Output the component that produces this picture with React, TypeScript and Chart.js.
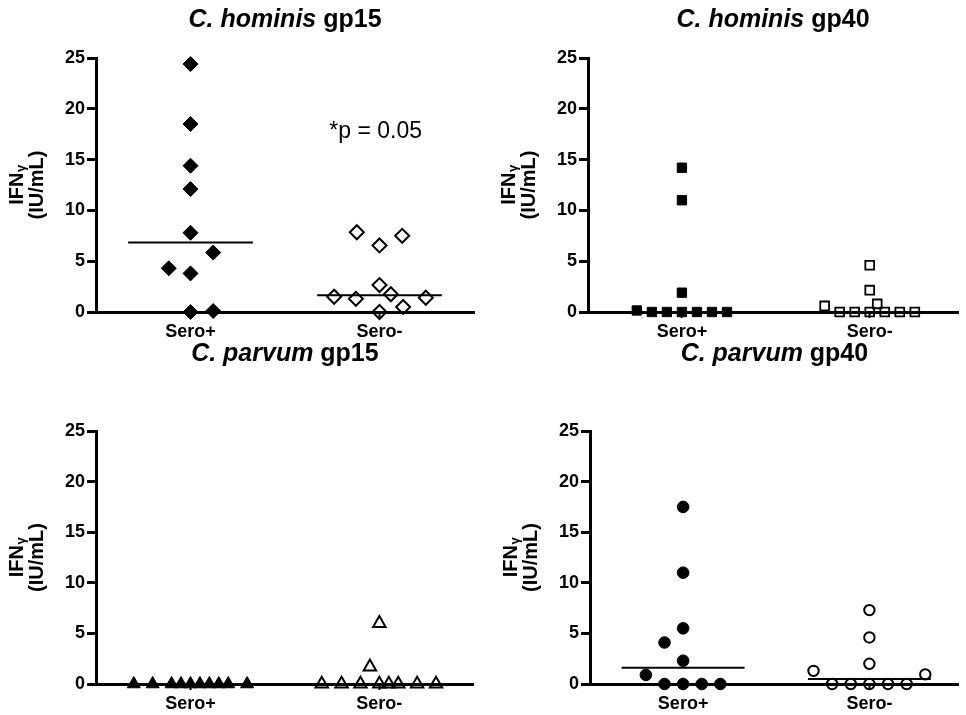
import React, { useEffect, useRef } from 'react';
import { Chart, registerables } from 'chart.js';

Chart.register(...registerables);

const FONT = "'Liberation Sans', Arial, Helvetica, sans-serif";

const categories = ['Sero+', 'Sero-'];
const yTickValues = [0, 5, 10, 15, 20, 25];

// C. hominis gp15 (diamonds)
const hominisGp15PosX = [1, 1, 1, 1, 1, 1.24, 0.77, 1, 1, 1.24];
const hominisGp15PosY = [24.4, 18.5, 14.4, 12.1, 7.8, 5.85, 4.3, 3.8, 0, 0.1];
const hominisGp15NegX = [2.76, 3, 3.24, 3, 3.12, 2.52, 2.75, 3.49, 3.25, 3];
const hominisGp15NegY = [7.85, 6.55, 7.5, 2.65, 1.75, 1.5, 1.3, 1.4, 0.5, 0];
const hominisGp15Median = [6.85, 1.65];

// C. hominis gp40 (squares)
const hominisGp40PosX = [1, 1, 1, 0.52, 0.68, 0.84, 1, 1.16, 1.32, 1.48];
const hominisGp40PosY = [14.2, 11.0, 1.9, 0.15, 0, 0, 0, 0, 0, 0];
const hominisGp40NegX = [3, 3, 3.08, 2.52, 2.68, 2.84, 3, 3.16, 3.32, 3.48];
const hominisGp40NegY = [4.6, 2.15, 0.8, 0.6, 0, 0, 0, 0, 0, 0];
const hominisGp40Median = [0, 0];

// C. parvum gp15 (triangles)
const parvumGp15PosX = [0.4, 0.6, 0.8, 0.9, 1, 1.1, 1.2, 1.3, 1.4, 1.6];
const parvumGp15PosY = [0, 0, 0, 0, 0, 0, 0, 0, 0, 0];
const parvumGp15NegX = [3.0, 2.9, 2.39, 2.6, 2.8, 3.0, 3.1, 3.2, 3.4, 3.6];
const parvumGp15NegY = [6.0, 1.7, 0, 0, 0, 0, 0, 0, 0, 0];
const parvumGp15Median = [0, 0];

// C. parvum gp40 (circles)
const parvumGp40PosX = [1, 1, 1, 0.8, 1, 0.6, 0.8, 1, 1.2, 1.4];
const parvumGp40PosY = [17.5, 11.0, 5.5, 4.1, 2.3, 0.9, 0, 0, 0, 0];
const parvumGp40NegX = [3, 3, 3, 2.4, 3.6, 2.6, 2.8, 3, 3.2, 3.4];
const parvumGp40NegY = [7.3, 4.6, 2.0, 1.3, 0.95, 0, 0, 0, 0, 0];
const parvumGp40Median = [1.6, 0.5];

const pValueText = '*p = 0.05';

type PanelDef = {
  species: string;
  antigen: string;
  left: number;
  top: number;
  width: number;
  height: number;
  axisLeft: number;
  padTop: number;
  padRight: number;
  xAxisHeight: number;
  xMax: number;
  titleBaseline: number;
  pointStyle: string;
  filledRadius: number;
  openRadius: number;
  openBorder: number;
  posX: number[];
  posY: number[];
  negX: number[];
  negY: number[];
  medians: number[];
  annotation?: string;
};

const panels: PanelDef[] = [
  {
    species: 'hominis', antigen: 'gp15',
    left: 0, top: 0, width: 483, height: 345,
    axisLeft: 96, padTop: 58, padRight: 8, xAxisHeight: 33, xMax: 4, titleBaseline: 27,
    pointStyle: 'rectRot', filledRadius: 7.5, openRadius: 7, openBorder: 2,
    posX: hominisGp15PosX, posY: hominisGp15PosY, negX: hominisGp15NegX, negY: hominisGp15NegY,
    medians: hominisGp15Median, annotation: pValueText,
  },
  {
    species: 'hominis', antigen: 'gp40',
    left: 483, top: 0, width: 483, height: 345,
    axisLeft: 105, padTop: 58, padRight: 0, xAxisHeight: 33, xMax: 3.94, titleBaseline: 27,
    pointStyle: 'rect', filledRadius: 6.6, openRadius: 6.2, openBorder: 1.8,
    posX: hominisGp40PosX, posY: hominisGp40PosY, negX: hominisGp40NegX, negY: hominisGp40NegY,
    medians: hominisGp40Median,
  },
  {
    species: 'parvum', antigen: 'gp15',
    left: 0, top: 330, width: 483, height: 385,
    axisLeft: 96, padTop: 101, padRight: 8, xAxisHeight: 31, xMax: 4, titleBaseline: 31,
    pointStyle: 'triangle', filledRadius: 7.5, openRadius: 7.2, openBorder: 2,
    posX: parvumGp15PosX, posY: parvumGp15PosY, negX: parvumGp15NegX, negY: parvumGp15NegY,
    medians: parvumGp15Median,
  },
  {
    species: 'parvum', antigen: 'gp40',
    left: 483, top: 330, width: 483, height: 385,
    axisLeft: 107, padTop: 101, padRight: 0, xAxisHeight: 31, xMax: 3.96, titleBaseline: 31,
    pointStyle: 'circle', filledRadius: 5.8, openRadius: 5.2, openBorder: 2,
    posX: parvumGp40PosX, posY: parvumGp40PosY, negX: parvumGp40NegX, negY: parvumGp40NegY,
    medians: parvumGp40Median,
  },
];

const MEDIAN_HALF = 0.66;

function makeTextPlugin(p: PanelDef) {
  return {
    id: 'panelText',
    afterDraw(chart: any) {
      const ctx = chart.ctx as CanvasRenderingContext2D;
      const ca = chart.chartArea;
      ctx.save();
      ctx.fillStyle = '#000';
      // Title
      const italicFont = `italic bold 25px ${FONT}`;
      const boldFont = `bold 25px ${FONT}`;
      const partA = `C. ${p.species}`;
      const partB = ` ${p.antigen}`;
      ctx.font = italicFont;
      const wA = ctx.measureText(partA).width;
      ctx.font = boldFont;
      const wB = ctx.measureText(partB).width;
      const cx = (ca.left + ca.right) / 2;
      const x0 = cx - (wA + wB) / 2;
      ctx.textBaseline = 'alphabetic';
      ctx.textAlign = 'left';
      ctx.font = italicFont;
      ctx.fillText(partA, x0, p.titleBaseline);
      ctx.font = boldFont;
      ctx.fillText(partB, x0 + wA, p.titleBaseline);

      // Y axis title
      const midY = (ca.top + ca.bottom) / 2;
      const line1X = ca.left - 79;
      const line2X = ca.left - 59;
      const mainFont = `bold 20px ${FONT}`;
      const subFont = `bold 13px ${FONT}`;
      ctx.save();
      ctx.translate(line1X, midY);
      ctx.rotate(-Math.PI / 2);
      ctx.textBaseline = 'middle';
      ctx.textAlign = 'left';
      ctx.font = mainFont;
      const wIFN = ctx.measureText('IFN').width;
      ctx.font = subFont;
      const wG = ctx.measureText('γ').width;
      const sx = -(wIFN + wG) / 2;
      ctx.font = mainFont;
      ctx.fillText('IFN', sx, 0);
      ctx.font = subFont;
      ctx.fillText('γ', sx + wIFN + 0.5, 4);
      ctx.restore();

      ctx.save();
      ctx.translate(line2X, midY);
      ctx.rotate(-Math.PI / 2);
      ctx.textBaseline = 'middle';
      ctx.textAlign = 'center';
      ctx.font = mainFont;
      ctx.fillText('(IU/mL)', 0, 0);
      ctx.restore();

      // Annotation
      if (p.annotation) {
        const xs = chart.scales.x;
        const ys = chart.scales.y;
        ctx.font = `23px ${FONT}`;
        ctx.textAlign = 'center';
        ctx.textBaseline = 'alphabetic';
        ctx.fillText(p.annotation, xs.getPixelForValue(2.96), ys.getPixelForValue(17.1));
      }
      ctx.restore();
    },
  };
}

function Panel({ p }: { p: PanelDef }) {
  const ref = useRef<HTMLCanvasElement | null>(null);
  useEffect(() => {
    if (!ref.current) return;
    const tickFont = { family: FONT, size: 18, weight: 'bold' as const };
    const medianLine = (center: number, value: number) => ({
      type: 'scatter' as const,
      data: [
        { x: center - MEDIAN_HALF, y: value },
        { x: center + MEDIAN_HALF, y: value },
      ],
      showLine: true,
      pointRadius: 0,
      borderColor: '#000',
      borderWidth: 2,
      clip: false as any,
    });
    const chart = new Chart(ref.current, {
      type: 'scatter',
      data: {
        datasets: [
          medianLine(1, p.medians[0]),
          medianLine(3, p.medians[1]),
          {
            label: categories[0],
            data: p.posX.map((x, i) => ({ x, y: p.posY[i] })),
            pointStyle: p.pointStyle as any,
            pointRadius: p.filledRadius,
            backgroundColor: '#000',
            borderColor: '#000',
            borderWidth: 1,
            clip: false as any,
          },
          {
            label: categories[1],
            data: p.negX.map((x, i) => ({ x, y: p.negY[i] })),
            pointStyle: p.pointStyle as any,
            pointRadius: p.openRadius,
            backgroundColor: 'rgba(255,255,255,0)',
            borderColor: '#000',
            borderWidth: p.openBorder,
            clip: false as any,
          },
        ],
      },
      options: {
        responsive: false,
        animation: false,
        devicePixelRatio: 1,
        events: [],
        layout: { padding: { top: p.padTop, right: p.padRight, left: 0, bottom: 0 } },
        plugins: {
          legend: { display: false },
          tooltip: { enabled: false },
          title: { display: false },
        },
        scales: {
          x: {
            type: 'linear',
            min: 0,
            max: p.xMax,
            border: { display: true, color: '#000', width: 3 },
            grid: {
              display: true,
              drawOnChartArea: false,
              drawTicks: true,
              tickLength: 6,
              tickWidth: 2,
              tickColor: '#000',
            },
            ticks: {
              font: tickFont,
              color: '#000',
              padding: 3,
              autoSkip: false,
              maxRotation: 0,
              callback: (v: any) => (v === 1 ? categories[0] : v === 3 ? categories[1] : ''),
            },
            afterBuildTicks: (s: any) => {
              s.ticks = [{ value: 1 }, { value: 3 }];
            },
            afterFit: (s: any) => {
              s.height = p.xAxisHeight;
            },
          },
          y: {
            type: 'linear',
            min: 0,
            max: 25,
            border: { display: true, color: '#000', width: 3 },
            grid: {
              display: true,
              drawOnChartArea: false,
              drawTicks: true,
              tickLength: 9,
              tickWidth: 3,
              tickColor: '#000',
            },
            ticks: {
              font: tickFont,
              color: '#000',
              padding: 2,
            },
            afterBuildTicks: (s: any) => {
              s.ticks = yTickValues.map((v) => ({ value: v }));
            },
            afterFit: (s: any) => {
              s.width = p.axisLeft;
            },
          },
        },
      } as any,
      plugins: [makeTextPlugin(p)],
    });
    return () => chart.destroy();
  }, [p]);
  return (
    <div style={{ position: 'absolute', left: p.left, top: p.top, width: p.width, height: p.height }}>
      <canvas ref={ref} width={p.width} height={p.height} style={{ display: 'block', width: p.width, height: p.height }} />
    </div>
  );
}

export default function App() {
  return (
    <div
      style={{
        position: 'absolute',
        left: 0,
        top: 0,
        width: 966,
        height: 715,
        background: '#fff',
        overflow: 'hidden',
      }}
    >
      {panels.map((p, i) => (
        <Panel key={i} p={p} />
      ))}
    </div>
  );
}
